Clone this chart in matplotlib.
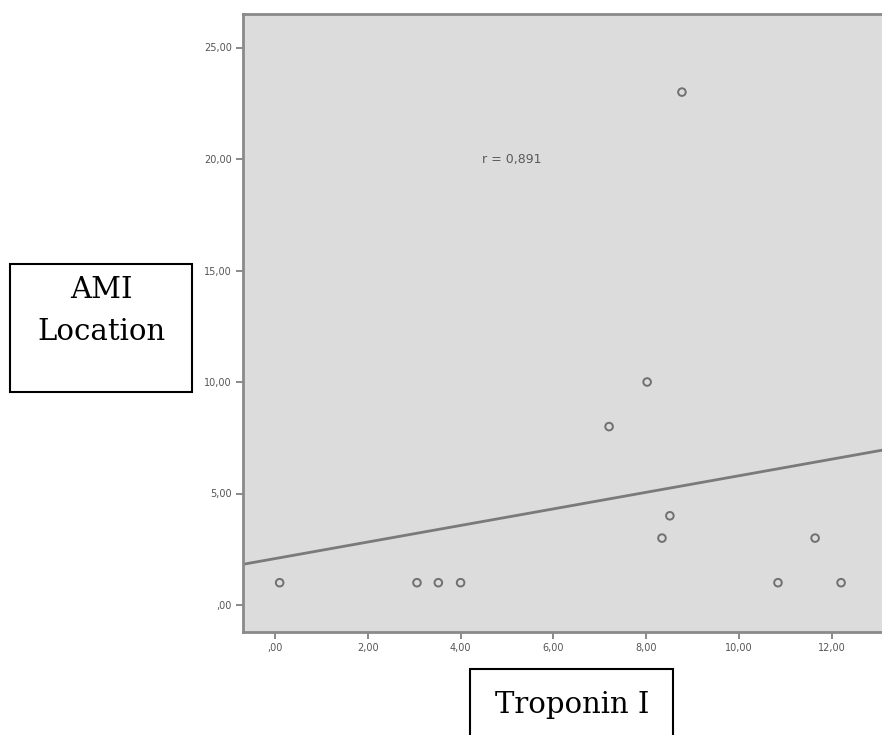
import numpy as np
import matplotlib
matplotlib.use("Agg")
import matplotlib.pyplot as plt
from matplotlib.patches import Rectangle

# Data
troponin = [0.10, 3.06, 3.52, 4.00, 7.20, 8.02, 8.34, 8.51, 8.77, 10.84, 11.64, 12.20]
ami_location = [1, 1, 1, 1, 8, 10, 3, 4, 23, 1, 3, 1]
x_ticks = [0, 2, 4, 6, 8, 10, 12]
x_tick_labels = [",00", "2,00", "4,00", "6,00", "8,00", "10,00", "12,00"]
y_ticks = [0, 5, 10, 15, 20, 25]
y_tick_labels = [",00", "5,00", "10,00", "15,00", "20,00", "25,00"]
r_label = "r = 0,891"

W, H = 882, 735
fig = plt.figure(figsize=(W / 100, H / 100), dpi=100)
fig.patch.set_facecolor("white")

# axes in pixel coordinates: left 243, top 14, bottom 632, right beyond figure
left, top, bottom, right = 243, 14, 632, 900
ax = fig.add_axes([left / W, 1 - bottom / H, (right - left) / W, (bottom - top) / H])
ax.set_facecolor("#dcdcdc")

xmin = (left - 275) / 46.4
xmax = (right - 275) / 46.4
ymin = (605 - bottom) / 22.3
ymax = (605 - top) / 22.3
ax.set_xlim(xmin, xmax)
ax.set_ylim(ymin, ymax)

# regression line
slope, intercept = np.polyfit(troponin, ami_location, 1)
xs = np.array([xmin, xmax])
ax.plot(xs, intercept + slope * xs, color="#7a7a7a", lw=2.0, zorder=2)

ax.scatter(troponin, ami_location, s=30, facecolors="none",
           edgecolors="#707070", linewidths=1.4, zorder=3)

ax.text(5.1, 20.0, r_label, ha="center", va="center", fontsize=9,
        color="#5a5a5a")

for sp in ax.spines.values():
    sp.set_color("#8a8a8a")
    sp.set_linewidth(2.0)

ax.set_xticks(x_ticks)
ax.set_xticklabels(x_tick_labels)
ax.set_yticks(y_ticks)
ax.set_yticklabels(y_tick_labels)
ax.tick_params(axis="both", direction="out", length=5, width=1.2,
               color="#777777", labelsize=7, labelcolor="#555555", pad=3)

# Axis title boxes (serif)
tr = fig.transFigure
def box(x0, y0, x1, y1):
    fig.patches.append(Rectangle((x0 / W, 1 - y1 / H), (x1 - x0) / W, (y1 - y0) / H,
                                 transform=tr, fill=False, edgecolor="black",
                                 linewidth=1.5, figure=fig))

box(10, 264, 192, 392)
fig.text(101 / W, 1 - 311 / H, "AMI\nLocation", ha="center", va="center",
         fontsize=21, family="DejaVu Serif", linespacing=1.65, color="black")

box(470, 669, 673, 740)
fig.text(572 / W, 1 - 705 / H, "Troponin I", ha="center", va="center",
         fontsize=21, family="DejaVu Serif", color="black")

fig.savefig("out.png", dpi=100, facecolor="white")
